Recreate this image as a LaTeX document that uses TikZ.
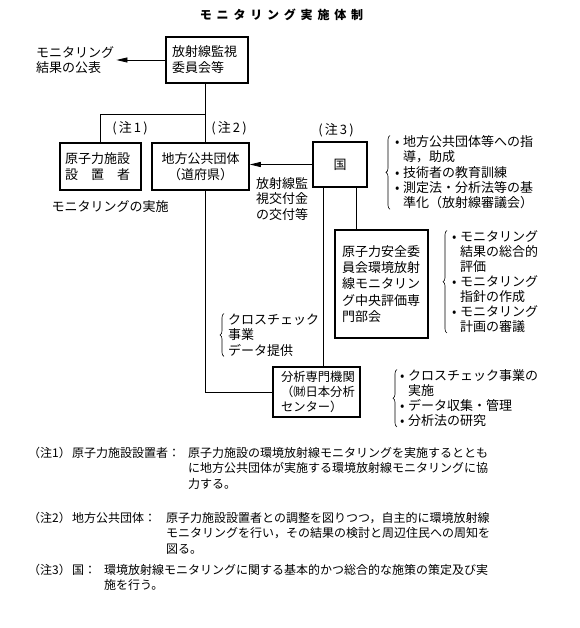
\documentclass[tikz,border=0pt]{standalone}
\usepackage{fontspec}
\setmainfont{Noto Sans CJK JP}
\usetikzlibrary{arrows.meta,decorations.pathreplacing,calc}
\newcommand\bt{\makebox[8pt][l]{•}}
\newcommand\ind{\hspace*{8pt}}
\newcommand\ts{\hspace{4.8pt}}
\begin{document}
\begin{tikzpicture}[x=1pt,y=-1pt,
  box/.style={draw,line width=1.5pt,inner ysep=0pt,font=\fontsize{13}{16}\selectfont},
  lbl/.style={inner sep=0pt,font=\fontsize{13}{15.3}\selectfont,align=left},
  note/.style={inner sep=0pt,font=\fontsize{12}{15.5}\selectfont,align=left},
  conn/.style={line width=0.8pt},
  arr/.style={conn,-{Triangle[length=11pt,width=5pt]}},
  brc/.style={decorate,decoration={brace,amplitude=4pt},line width=0.6pt}]
\useasboundingbox[fill=white] (0,0) rectangle (579,628);

% title
\node[font=\fontsize{12}{14}\selectfont\bfseries] (title) at (281.5,15)
  {モ\ts ニ\ts タ\ts リ\ts ン\ts グ\ts 実\ts 施\ts 体\ts 制};

% boxes
\node[box,text width=70pt,inner xsep=6pt,minimum height=46pt,align=left] (iinkai) at (207,60) {放射線監視\\委員会等};
\node[box,text width=71pt,inner xsep=5pt,minimum height=47pt,align=left] (genshi) at (100.5,166.5) {原子力施設\\設　置　者};
\node[box,text width=85pt,inner xsep=6pt,minimum height=47pt,align=center] (chiho) at (200.5,166.5) {地方公共団体\\（道府県）};
\node[box,minimum width=54pt,minimum height=45pt] (kuni) at (340,164.5) {国};
\node[box,text width=79pt,inner xsep=7pt,minimum height=108pt,align=left,font=\fontsize{13}{16.3}\selectfont] (anzen) at (381.5,284)
  {原子力安全委\\員会環境放射\\線モニタリン\\グ中央評価専\\門部会};
\node[box,text width=71pt,inner xsep=8pt,minimum height=50pt,align=left,font=\fontsize{12.3}{15}\selectfont] (bunseki) at (316.5,392)
  {分析専門機関\\（㈶日本分析\\センター）};

% free texts
\node[lbl,anchor=west,font=\fontsize{13}{15}\selectfont] (kohyo) at (36,60) {モニタリング\\結果の公表};
\node[lbl] (c1) at (130,128) {(\,注\,1\,)};
\node[lbl] (c2) at (229,128) {(\,注\,2\,)};
\node[lbl] (c3) at (336,130) {(\,注\,3\,)};
\node[lbl] (jisshi) at (110,207) {モニタリングの実施};
\node[lbl,anchor=north west] (kofu) at (256,177.5) {放射線監\\視交付金\\の交付等};

% brace lists
\node[lbl,anchor=north west,font=\fontsize{13}{15.3}\selectfont] (l1) at (395,135.5)
  {\bt 地方公共団体等への指\\\ind 導，助成\\\bt 技術者の教育訓練\\\bt 測定法・分析法等の基\\\ind 準化（放射線審議会）};
\node[lbl,anchor=north west,font=\fontsize{13}{15}\selectfont] (l2) at (452,230.5)
  {\bt モニタリング\\\ind 結果の総合的\\\ind 評価\\\bt モニタリング\\\ind 指針の作成\\\bt モニタリング\\\ind 計画の審議};
\node[lbl,anchor=north west,font=\fontsize{13}{15.5}\selectfont] (l3) at (228,313.5)
  {クロスチェック\\事業\\データ提供};
\node[lbl,anchor=north west,font=\fontsize{13}{15}\selectfont] (l4) at (400,369.5)
  {\bt クロスチェック事業の\\\ind 実施\\\bt データ収集・管理\\\bt 分析法の研究};

\draw[brc] ([xshift=-5pt]l1.south west) -- ([xshift=-5pt]l1.north west);
\draw[brc] ([xshift=-5pt]l2.south west) -- ([xshift=-5pt]l2.north west);
\draw[brc] ([xshift=-4pt]l3.south west) -- ([xshift=-4pt]l3.north west);
\draw[brc] ([xshift=-3pt]l4.south west) -- ([xshift=-3pt]l4.north west);

% connectors
\coordinate (j1) at (205,114);
\draw[conn] (j1 |- iinkai.south) -- (j1 |- chiho.north);
\draw[conn] (j1) -| (genshi.north);
\draw[conn] (j1 |- chiho.south) |- (bunseki.west);
\draw[arr] (iinkai.west) -- ([xshift=2pt]kohyo.east);
\draw[arr] (kuni.west) -- (kuni.west -| chiho.east);
\coordinate (kA) at ($(kuni.south west)+(11,0)$);
\coordinate (kB) at ($(kuni.south west)+(44,0)$);
\draw[conn] (kA) -- (kA |- bunseki.north);
\draw[conn] (kB) -- (kB |- anzen.north);

% notes
\node[note,anchor=west] (n1) at (28,453) {（注1）};
\node[note,anchor=west] (n1h) at (72,453) {原子力施設設置者：};
\node[note,anchor=north west] (n1t) at (188,447)
  {原子力施設の環境放射線モニタリングを実施するととも\\に地方公共団体が実施する環境放射線モニタリングに協\\力する。};
\node[note,anchor=west] (n2) at (28,518) {（注2）};
\node[note,anchor=west] (n2h) at (72,518) {地方公共団体：};
\node[note,anchor=north west] (n2t) at (166,512)
  {原子力施設設置者との調整を図りつつ，自主的に環境放射線\\モニタリングを行い，その結果の検討と周辺住民への周知を\\図る。};
\node[note,anchor=west] (n3) at (28,570) {（注3）};
\node[note,anchor=west] (n3h) at (72,570) {国：};
\node[note,anchor=north west] (n3t) at (104,564)
  {環境放射線モニタリングに関する基本的かつ総合的な施策の策定及び実\\施を行う。};
\end{tikzpicture}
\end{document}
